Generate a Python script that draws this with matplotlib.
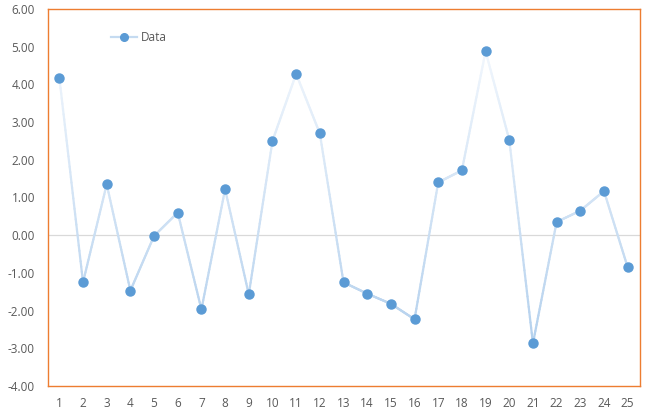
import numpy as np
import matplotlib
matplotlib.use("Agg")
import matplotlib.pyplot as plt
from matplotlib.collections import LineCollection
from matplotlib.colors import LinearSegmentedColormap
from matplotlib.lines import Line2D

# Chart data
categories = list(range(1, 26))
values = [4.18, -1.25, 1.35, -1.47, -0.02, 0.60, -1.97, 1.22, -1.57, 2.50,
          4.28, 2.70, -1.25, -1.55, -1.82, -2.23, 1.40, 1.72, 4.88, 2.53,
          -2.87, 0.35, 0.65, 1.17, -0.85]
y_ticks = [-4, -3, -2, -1, 0, 1, 2, 3, 4, 5, 6]

plt.rcParams['font.family'] = ['Open Sans', 'DejaVu Sans']

fig = plt.figure(figsize=(6.52, 4.2), dpi=100)
ax = fig.add_axes([47.5 / 652, 34 / 420, 592 / 652, 377 / 420])

# line with vertical gradient (light at top, darker at bottom)
cmap = LinearSegmentedColormap.from_list("grad", ["#b3d0ed", "#f2f7fd"])
xs, ys = [], []
for i in range(len(values) - 1):
    t = np.linspace(0, 1, 40)
    xs.append(categories[i] + t * (categories[i + 1] - categories[i]))
    ys.append(values[i] + t * (values[i + 1] - values[i]))
xs = np.concatenate(xs)
ys = np.concatenate(ys)
pts = np.array([xs, ys]).T.reshape(-1, 1, 2)
segs = np.concatenate([pts[:-1], pts[1:]], axis=1)
mid = (ys[:-1] + ys[1:]) / 2
lc = LineCollection(segs, cmap=cmap, norm=plt.Normalize(-3, 5),
                    linewidth=1.6, capstyle='round', zorder=2)
lc.set_array(mid)
ax.add_collection(lc)

ax.plot(categories, values, linestyle='none', marker='o', markersize=6.5,
        color='#5b9bd5', zorder=3)

ax.axhline(0, color='#d9d9d9', linewidth=0.9, zorder=1)

ax.set_xlim(0.5, 25.5)
ax.set_ylim(-4, 6)
ax.set_xticks(categories)
ax.set_yticks(y_ticks)
ax.set_yticklabels(["%.2f" % v for v in y_ticks])
ax.tick_params(length=0, labelsize=8.5, colors='#595959')
ax.tick_params(axis='y', pad=9)
ax.tick_params(axis='x', pad=8)
for s in ax.spines.values():
    s.set_color('#ed7d31')
    s.set_linewidth(1.0)

handle = Line2D([], [], color='#c5dbf1', linewidth=1.6, marker='o',
                markersize=5.5, markerfacecolor='#5b9bd5', markeredgecolor='#5b9bd5')
leg = ax.legend([handle], ["Data"], loc='upper left', bbox_to_anchor=(0.09, 0.97),
                frameon=False, fontsize=8.5, handlelength=2.2, handletextpad=0.3)
for t in leg.get_texts():
    t.set_color('#595959')

fig.savefig("out.png", dpi=100)
